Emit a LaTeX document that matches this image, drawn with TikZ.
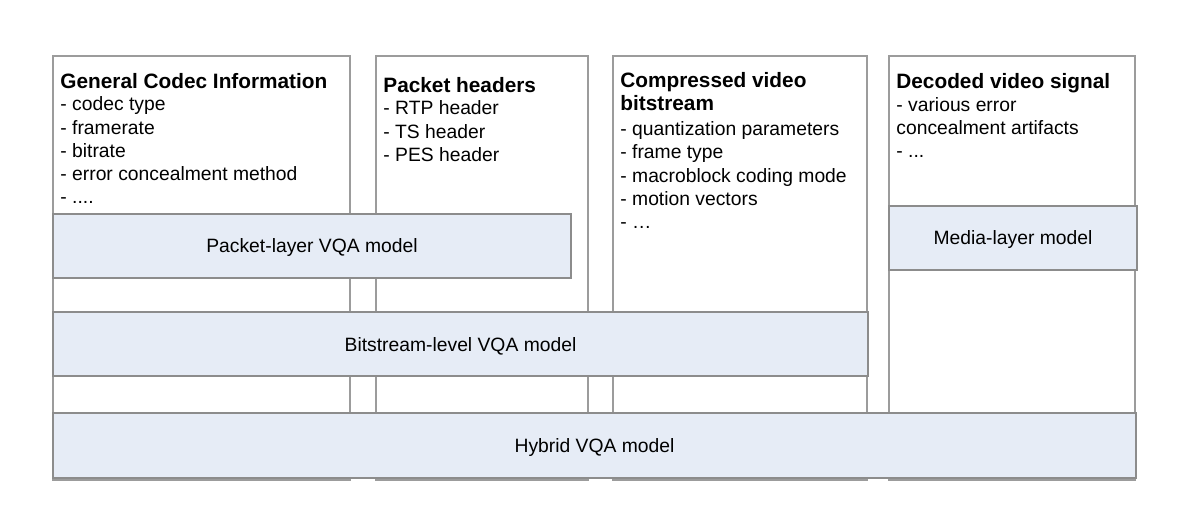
\documentclass[tikz,border=0pt]{standalone}
\usepackage{fontspec}
\setmainfont{Liberation Sans}
\definecolor{modelfill}{HTML}{E6ECF6}
\definecolor{boxline}{HTML}{9C9C9C}
\definecolor{modelline}{HTML}{8C8C8C}
\newcommand\coltitle[1]{{\fontsize{10.4}{11.6}\selectfont\bfseries #1}}
\begin{document}
\begin{tikzpicture}[x=0.5pt,y=-0.5pt,
  colbox/.style={draw=boxline, fill=white, line width=0.6pt},
  modelbox/.style={draw=modelline, fill=modelfill, line width=0.6pt},
  coltext/.style={anchor=north west, inner sep=0pt, align=left, font=\fontsize{9.65}{11.6}\selectfont},
  modeltext/.style={inner sep=0pt, font=\fontsize{9.65}{11.6}\selectfont}
  ]
\useasboundingbox (0,0) rectangle (1200,531);
\fill[white] (0,0) rectangle (1200,531);
% columns
\draw[colbox] (53,56) rectangle (350,480);
\draw[colbox] (376,56) rectangle (588,480);
\draw[colbox] (613,56) rectangle (867,480);
\draw[colbox] (889,56) rectangle (1135,480);
% column texts
\node[coltext] (t1) at (60,73) {\coltitle{General Codec Information}\\[-0.4pt]
- codec type\\- framerate\\- bitrate\\- error concealment method\\- ....};
\node[coltext] (t2) at (383,77) {\coltitle{Packet headers}\\[-0.4pt]
- RTP header\\- TS header\\- PES header};
\node[coltext] (t3) at (620,72.5) {\coltitle{Compressed video}\\[-0.3pt]\coltitle{bitstream}\\[1pt]
- quantization parameters\\- frame type\\- macroblock coding mode\\- motion vectors\\- …};
\node[coltext] (t4) at (896,73.5) {\coltitle{Decoded video signal}\\[-0.4pt]
- various error\\concealment artifacts\\- ...};
% model boxes
\draw[modelbox] (53,214) rectangle (571,278);
\node[modeltext] (packet) at (312,248) {Packet-layer VQA model};
\draw[modelbox] (889,206) rectangle (1137,270);
\node[modeltext] (media) at (1013,240) {Media-layer model};
\draw[modelbox] (53,312) rectangle (868,376);
\node[modeltext] (bitstream) at (460.5,346) {Bitstream-level VQA model};
\draw[modelbox] (53,413) rectangle (1136,478);
\node[modeltext] (hybrid) at (594.5,447.5) {Hybrid VQA model};
\end{tikzpicture}
\end{document}
